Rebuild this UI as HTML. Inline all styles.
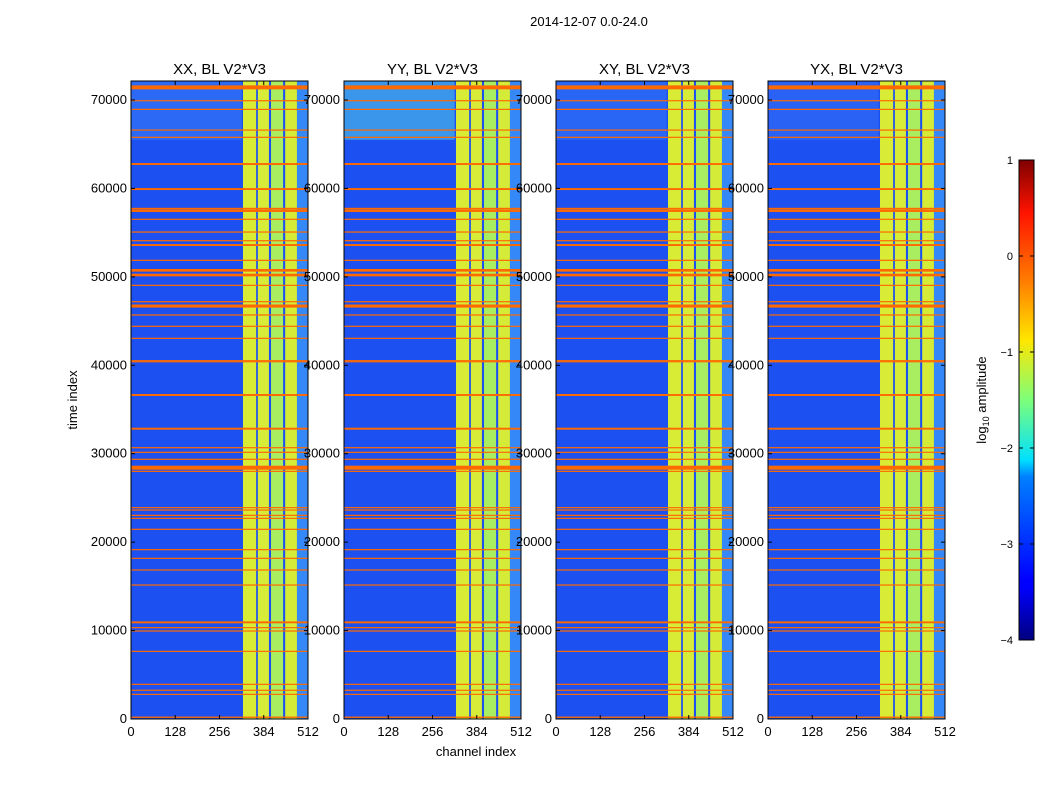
<!DOCTYPE html>
<html><head><meta charset="utf-8">
<style>
body{margin:0;background:#fff;width:1050px;height:800px;overflow:hidden;font-family:"Liberation Sans",sans-serif;}
svg text{font-family:"Liberation Sans",sans-serif;}
</style></head>
<body>
<svg id="fig" width="1050" height="800" xmlns="http://www.w3.org/2000/svg">
<defs>
<linearGradient id="jet" x1="0" y1="1" x2="0" y2="0">
<stop offset="0" stop-color="#00007f"/><stop offset="0.11" stop-color="#0000ff"/>
<stop offset="0.125" stop-color="#0000ff"/><stop offset="0.34" stop-color="#0080ff"/>
<stop offset="0.375" stop-color="#00e0ff"/><stop offset="0.5" stop-color="#7dff7a"/>
<stop offset="0.625" stop-color="#ffe600"/><stop offset="0.75" stop-color="#ff7b00"/>
<stop offset="0.89" stop-color="#ff1300"/><stop offset="1" stop-color="#7f0000"/>
</linearGradient>
</defs>
<text x="589" y="26" font-size="13" text-anchor="middle">2014-12-07 0.0-24.0</text>
</svg>
<script>
const panelTitles=["XX, BL V2*V3","YY, BL V2*V3","XY, BL V2*V3","YX, BL V2*V3"];
const yTicks=[0,10000,20000,30000,40000,50000,60000,70000];
const xTicks=[0,128,256,384,512];
const flagTimes=[71430,69920,68940,66600,65780,62760,59930,57700,57450,56510,55070,54090,53600,51870,50740,50210,49040,47190,46700,45690,44410,43050,40520,40400,36640,32830,30680,30160,29370,28420,28010,23900,23630,23030,22690,21450,19150,18170,16850,15150,10930,10330,9950,7650,3920,3250,2790,200];
const flagSpans=[450,100,100,100,100,220,220,220,220,100,100,100,220,100,300,300,100,100,350,100,100,100,80,80,220,220,100,100,100,450,100,100,100,100,100,100,100,100,100,100,220,100,100,100,100,100,100,150];
const segStart=[324,367,405,446];
const segEnd=[362,399,440,480];
const segColor=["#d8ec36","#d6ec38","#a8ee60","#d4ec38"];
const cbTicks=[1,0,-1,-2,-3,-4];
const TMAX=72150, CMAX=512;
const panelX=[131,344,556,768], PW=177, PT=81, PB=719;
const topColors=["#2c6af6","#3a96ea","#2a66f6","#2a62f6"];
const svg=document.getElementById('fig');
const NS="http://www.w3.org/2000/svg";
function el(t,a,p){const e=document.createElementNS(NS,t);for(const k in a)e.setAttribute(k,a[k]);(p||svg).appendChild(e);return e;}
panelX.forEach((px,pi)=>{
  const sx=c=>px+c/CMAX*PW;
  const sy=t=>PB-t/TMAX*(PB-PT);
  const g=el('g',{});
  
  
  const bg=el('rect',{x:px,y:PT,width:PW,height:PB-PT,fill:'#1d50f0'},g);
  
  
  const top=el('rect',{x:px,y:sy(72150),width:sx(320)-px,height:sy(65500)-sy(72150),fill:topColors[pi]},g);
  
  
  const tail=el('rect',{x:sx(480),y:PT,width:sx(512)-sx(480),height:PB-PT,fill:'#3488f8'},g);
  
  
  segStart.forEach((s,i)=>{
    const r=el('rect',{x:sx(s),y:PT,width:sx(segEnd[i])-sx(s),height:PB-PT,fill:segColor[i]},g);
    
    
  });
  flagTimes.forEach((t,i)=>{
    const h=Math.max(1.2,flagSpans[i]/TMAX*(PB-PT));
    const r=el('rect',{x:px,y:sy(t)-h/2,width:PW,height:h,fill:'#ff6a00'},g);
    
    
  });
  const fr=el('rect',{x:px,y:PT,width:PW,height:PB-PT,fill:'none',stroke:'#000','stroke-width':1},g);
  
  
  yTicks.forEach(v=>{
    const y=sy(v);
    el('line',{x1:px,x2:px+4,y1:y,y2:y,stroke:'#000'},g);
    el('line',{x1:px+PW-4,x2:px+PW,y1:y,y2:y,stroke:'#000'},g);
    const tx=el('text',{x:px-4,y:y+4,'font-size':13,'text-anchor':'end'},g);
    tx.textContent=v;
    
    
  });
  xTicks.forEach(v=>{
    const x=sx(v);
    el('line',{x1:x,x2:x,y1:PB,y2:PB-4,stroke:'#000'},g);
    el('line',{x1:x,x2:x,y1:PT,y2:PT+4,stroke:'#000'},g);
    const tx=el('text',{x:x,y:PB+17,'font-size':13,'text-anchor':'middle'},g);
    tx.textContent=v;
    
    
  });
  const tt=el('text',{x:px+PW/2,y:PT-7,'font-size':15,'text-anchor':'middle'},g);
  tt.textContent=panelTitles[pi];
  
  
});
const yl=el('text',{x:77,y:400,'font-size':13,'text-anchor':'middle',transform:'rotate(-90 77 400)'});
yl.textContent='time index';


const xl=el('text',{x:476,y:756,'font-size':13,'text-anchor':'middle'});
xl.textContent='channel index';


const CT=160, CB=640, CX=1019, CW=15;
const cy=v=>CB-(v+4)/5*(CB-CT);
const cb=el('rect',{x:CX,y:CT,width:CW,height:CB-CT,fill:'url(#jet)',stroke:'#000'});


cbTicks.forEach(v=>{
  const y=cy(v);
  el('line',{x1:CX,x2:CX+4,y1:y,y2:y,stroke:'#000'});
  el('line',{x1:CX+CW-4,x2:CX+CW,y1:y,y2:y,stroke:'#000'});
  const tx=el('text',{x:1013,y:y+4,'font-size':11,'text-anchor':'end'});
  tx.textContent=v<0?'\u2212'+(-v):v;
  
  
});
const cl=el('text',{x:986,y:400,'font-size':13,'text-anchor':'middle',transform:'rotate(-90 986 400)'});
cl.innerHTML='log<tspan font-size="9" dy="3">10</tspan><tspan dy="-3"> amplitude</tspan>';


</script>
</body></html>
